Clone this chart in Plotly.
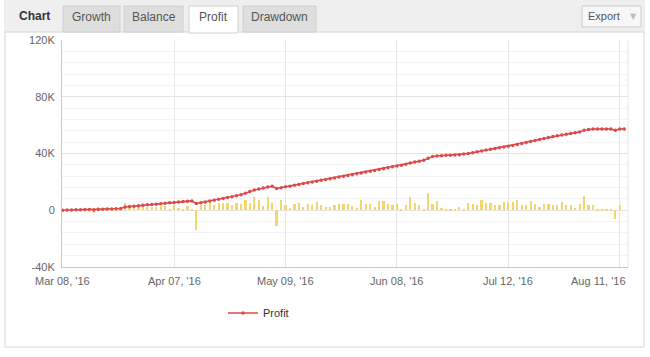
import plotly.graph_objects as go

# ---- data ----
tick_labels = ["Mar 08, '16", "Apr 07, '16", "May 09, '16", "Jun 08, '16", "Jul 12, '16", "Aug 11, '16"]
tick_index = [0, 25, 50, 75, 100, 125]

profit_k = [
    0, 0.1, 0.2, 0.3, 0.4, 0.5, 0.6, 0.2, 0.6, 0.7, 0.8, 0.9, 1.0, 1.2,
    2.3, 2.6, 2.9, 3.2, 3.5, 3.8, 4.0, 4.3, 4.6, 4.9, 5.2, 5.5, 5.8, 6.1, 6.4, 6.6,
    4.7, 5.3, 5.9, 6.5, 7.1, 7.7, 8.3, 8.9, 9.5, 10.2, 11.0, 12.0, 13.2, 14.2, 14.9, 15.7, 16.4, 16.9,
    15.3,
    15.9, 16.5, 17.0, 17.6, 18.2, 18.8, 19.3, 19.9, 20.5, 21.1, 21.6, 22.2, 22.8, 23.4, 23.9, 24.5,
    25.1, 25.7, 26.3, 26.9, 27.5, 28.1, 28.7, 29.3, 29.9, 30.6, 31.2, 31.8, 32.4, 33.3, 34.0, 34.6, 35.3,
    36.6, 37.8, 38.3, 38.5, 38.7, 38.8, 38.9, 39.2, 39.6, 40.0,
    40.6, 41.2, 41.8, 42.4, 43.0, 43.5, 44.0, 44.6, 45.1,
    45.7, 46.3, 47.0, 47.7, 48.4, 49.1, 49.8, 50.6, 51.3, 51.9, 52.5, 53.1, 53.6, 54.1, 54.6, 55.2,
    56.3, 56.9, 57.2, 57.3, 57.3, 57.3, 57.3, 56.4, 57.2, 57.3,
]

daily_k = [
    0.3, 0.5, 0.6, 0.4, 0.5, 0.6, 0.5, -1.6, 2.3, 0.6, 0.5, 0.7, 0.6, 0.8,
    5.4, 2.0, 2.6, 2.2, 2.8, 2.4, 2.6, 2.4, 2.8, 3.1, 0.8, 4.0, 1.6, 0.6, 3.1, 1.0,
    -14.1,
    3.5, 3.5, 5.9, 4.0, 5.2, 5.4, 5.4, 4.0, 5.4, 4.7, 7.0, 5.2, 9.4, 7.5, 2.8, 9.4, 5.4,
    -11.3,
    7.0, 4.0, 1.6, 4.7, 5.4, 2.4, 4.2, 4.0, 5.9, 3.5, 2.4, 2.4, 3.5, 4.7, 4.7, 4.7,
    2.8, 1.6, 7.5, 4.2, 4.2, 2.4, 6.3, 6.6, 4.7, 3.5, 4.7, 0.3, 3.5, 9.4, 5.2, 3.5, 0.4, 12.5, 4.2, 6.6, 1.6, 1.2,
    0.5, 0.2, 2.4, 1.2, 5.2, 4.7, 4.0, 7.5, 5.4, 5.2, 4.0, 3.5, 5.9, 5.9, 5.9, 7.0, 3.5, 3.5, 6.3, 4.7, 2.0,
    4.7, 4.7, 3.5, 4.0, 5.9, 4.0, 4.0, 1.9, 4.7, 9.9, 3.5, 3.5, 0.5, 0.5, 0.2, 0.3, -6.3, 4.0, 0,
]

y_tick_vals = [-40000, 0, 40000, 80000, 120000]
y_tick_text = ["-40K", "0", "40K", "80K", "120K"]

tabs = ["Growth", "Balance", "Profit", "Drawdown"]

n = min(len(profit_k), len(daily_k))
idx = list(range(n))
profit = [v * 1000 for v in profit_k[:n]]
daily = [v * 1000 for v in daily_k[:n]]

# ---- layout geometry (pixels) ----
W, H = 650, 357
L, R, T, B = 62, 22, 40, 90
PW = W - L - R
PH = H - T - B
XMIN, XMAX = -0.15, 126.85


def px(x):
    return (x - L) / PW


def py(y):
    return (H - B - y) / PH


FONT = "Liberation Sans, Arial, sans-serif"

fig = go.Figure()

fig.add_trace(go.Bar(
    x=idx, y=daily, width=0.5,
    marker=dict(color="#F5D66C", line=dict(width=0)),
    showlegend=False, hoverinfo="skip",
))

fig.add_trace(go.Scatter(
    x=idx, y=profit, mode="lines+markers", name="Profit",
    line=dict(color="#DD4A4A", width=1.5),
    marker=dict(color="#DD4A4A", size=3.5),
))

shapes = []
annotations = []

# outer panel
shapes.append(dict(type="rect", xref="paper", yref="paper",
                   x0=px(5), x1=px(644), y0=py(347), y1=py(0),
                   line=dict(color="#d6d6d6", width=1), fillcolor="rgba(0,0,0,0)", layer="below"))
# header strip
shapes.append(dict(type="rect", xref="paper", yref="paper",
                   x0=px(5), x1=px(644), y0=py(32), y1=py(0),
                   line=dict(width=0), fillcolor="#efefef", layer="below"))
shapes.append(dict(type="line", xref="paper", yref="paper",
                   x0=px(5), x1=px(644), y0=py(32), y1=py(32),
                   line=dict(color="#d4d4d4", width=1)))

tab_boxes = [(63, 120), (124, 183), (189, 238), (243, 316)]
for name, (a, b) in zip(tabs, tab_boxes):
    active = name == "Profit"
    shapes.append(dict(type="rect", xref="paper", yref="paper",
                       x0=px(a), x1=px(b), y0=py(33 if active else 32), y1=py(6),
                       line=dict(color="#d0d0d0", width=1),
                       fillcolor="#ffffff" if active else "#dedede"))
    annotations.append(dict(text=name, xref="paper", yref="paper",
                            x=px((a + b) / 2), y=py(17), showarrow=False,
                            font=dict(family=FONT, size=12, color="#555555"),
                            xanchor="center", yanchor="middle"))

annotations.append(dict(text="<b>Chart</b>", xref="paper", yref="paper",
                        x=px(17), y=py(16), showarrow=False, xanchor="left", yanchor="middle",
                        font=dict(family=FONT, size=12, color="#333333")))

# export button
shapes.append(dict(type="rect", xref="paper", yref="paper",
                   x0=px(582), x1=px(641), y0=py(27), y1=py(6),
                   line=dict(color="#cccccc", width=1), fillcolor="#f7f7f7"))
annotations.append(dict(text="Export", xref="paper", yref="paper",
                        x=px(604), y=py(16), showarrow=False, xanchor="center", yanchor="middle",
                        font=dict(family=FONT, size=11, color="#555555")))
annotations.append(dict(text="▼", xref="paper", yref="paper",
                        x=px(633), y=py(16), showarrow=False, xanchor="center", yanchor="middle",
                        font=dict(family="DejaVu Sans", size=8, color="#bbbbbb")))

# right plot edge line
shapes.append(dict(type="line", xref="paper", yref="paper",
                   x0=1, x1=1, y0=0, y1=1, line=dict(color="#e6e6e6", width=1)))

# x tick labels as annotations (last one kept inside the plot like the original)
for i, (ti, tl) in enumerate(zip(tick_index, tick_labels)):
    last = i == len(tick_index) - 1
    annotations.append(dict(
        text=tl, xref="x", yref="paper",
        x=XMAX if last else ti, y=py(281), showarrow=False,
        xanchor="right" if last else "center", yanchor="middle",
        font=dict(family=FONT, size=11, color="#666666"),
    ))

fig.update_layout(
    width=W, height=H,
    margin=dict(l=L, r=R, t=T, b=B, autoexpand=False),
    paper_bgcolor="white", plot_bgcolor="white",
    bargap=0,
    font=dict(family=FONT, size=11, color="#666666"),
    shapes=shapes, annotations=annotations,
    legend=dict(orientation="h", x=px(223), y=py(313), xanchor="left", yanchor="middle",
                font=dict(size=11, color="#333333"), bgcolor="rgba(0,0,0,0)"),
    xaxis=dict(
        range=[XMIN, XMAX], tickmode="array", tickvals=tick_index, ticktext=[""] * len(tick_index),
        showgrid=True, gridcolor="#e6e6e6", gridwidth=1, automargin=False,
        zeroline=False, showline=True, linecolor="#c8c8c8", linewidth=1,
        ticks="",
    ),
    yaxis=dict(
        range=[-40000, 120000], tickmode="array", tickvals=y_tick_vals, ticktext=y_tick_text,
        showgrid=True, gridcolor="#e4e4e4", gridwidth=1, automargin=False,
        minor=dict(dtick=8000, tick0=0, showgrid=True, gridcolor="#f3f3f3", gridwidth=1),
        zeroline=False, showline=True, linecolor="#c8c8c8", linewidth=1,
        ticks="", ticklabelstandoff=4, tickfont=dict(size=11, color="#666666"),
    ),
)

fig.write_html(
    "out.html",
    config={"displayModeBar": False},
    post_script="document.body.style.margin='0';document.body.style.overflow='hidden';",
)
